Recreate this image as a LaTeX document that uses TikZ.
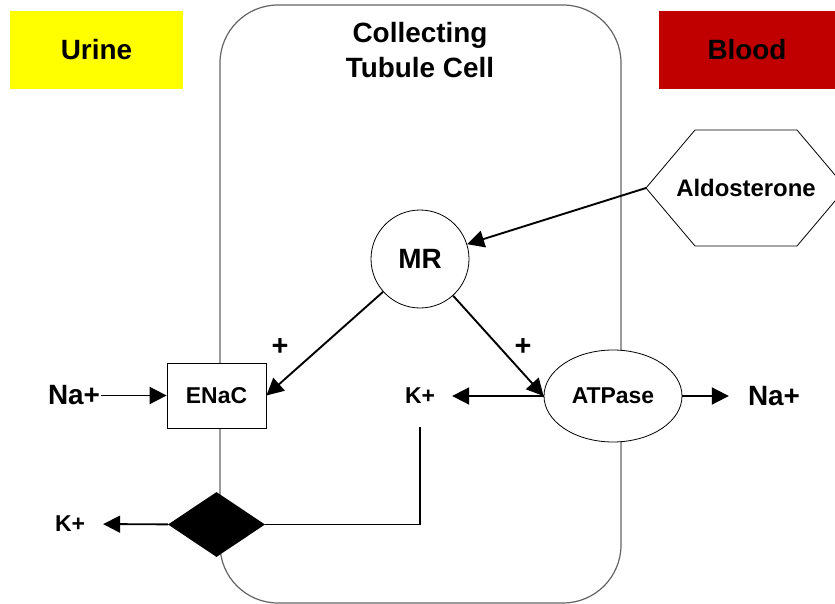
\documentclass[tikz,border=0pt]{standalone}
\usepackage{fontspec}
\setmainfont{Liberation Sans}
\usetikzlibrary{arrows.meta}
\usetikzlibrary{shapes.geometric}
\definecolor{urine yellow}{RGB}{255,255,0}
\definecolor{blood red}{RGB}{192,0,0}
\definecolor{wall grey}{RGB}{100,100,100}
\tikzstyle{big text}=[font=\bfseries\fontsize{28}{36}\selectfont, inner sep=0]
\tikzstyle{mid text}=[font=\bfseries\fontsize{23}{28}\selectfont, inner sep=0]
\tikzstyle{sign}=[font=\bfseries\fontsize{29}{30}\selectfont, inner sep=0]
\tikzstyle{region}=[minimum height=78bp, inner sep=0]
\tikzstyle{part}=[draw, fill=white, line width=0.8bp]
\tikzstyle{wall}=[draw=wall grey, line width=1.2bp]
\tikzstyle{flow}=[-{Triangle[length=17bp, width=17bp]}, line width=1.9bp]

\begin{document}
\begin{tikzpicture}[x=1bp, y=-1bp]
      \useasboundingbox (0, 0) rectangle (835, 604);
      \draw[wall, rounded corners=58bp] (220, 5) rectangle (621, 603);

      \node[region, big text, fill=urine yellow, minimum width=173bp] (urine) at (96.5, 50) {Urine};
      \node[region, big text, fill=blood red, minimum width=176bp] (blood) at (747, 50) {Blood};
      \node[big text, align=center] (title) at (420, 50) {Collecting\\Tubule Cell};

      \draw[part] (646, 188) -- (695, 130) -- (797, 130) -- (846, 188)
        -- (797, 246) -- (695, 246) -- cycle;
      \node[mid text, font=\bfseries\fontsize{24}{28}\selectfont] (aldo) at (746, 188) {Aldosterone};
      \coordinate (aldo tip) at (646, 188);

      \node[part, big text, circle, minimum size=98bp] (mr) at (420, 259) {MR};
      \node[part, mid text, minimum width=99bp, minimum height=65bp] (enac) at (216.5, 395.5) {ENaC};
      \node[part, mid text, ellipse, minimum width=138bp, minimum height=92bp] (atpase) at (613, 396) {ATPase};
      \node[diamond, fill=black, inner sep=0, minimum width=97bp, minimum height=65bp] (pump) at (216.5, 524.5) {};

      \node[mid text, inner xsep=17bp, inner ysep=22.5bp] (k cell) at (420, 396) {K+};
      \node[mid text, inner xsep=18bp] (k urine) at (70, 524) {K+};
      \node[big text, inner xsep=1bp] (na urine) at (74, 395.5) {Na+};
      \node[big text, inner xsep=19bp] (na blood) at (774, 396) {Na+};
      \node[sign] (plus enac) at (280, 347) {+};
      \node[sign] (plus atpase) at (523, 347) {+};

      \draw[flow] (aldo tip) to (mr);
      \draw[flow] (mr) to (enac.east);
      \draw[flow] (mr) to (atpase.west);
      \draw[flow] (na urine) to (enac);
      \draw[flow] (atpase) to (k cell);
      \draw[flow] (atpase) to (na blood);
      \draw[line width=1.9bp] (k cell) |- (pump);
      \draw[flow] (pump) to (k urine);
    \end{tikzpicture}
\end{document}
